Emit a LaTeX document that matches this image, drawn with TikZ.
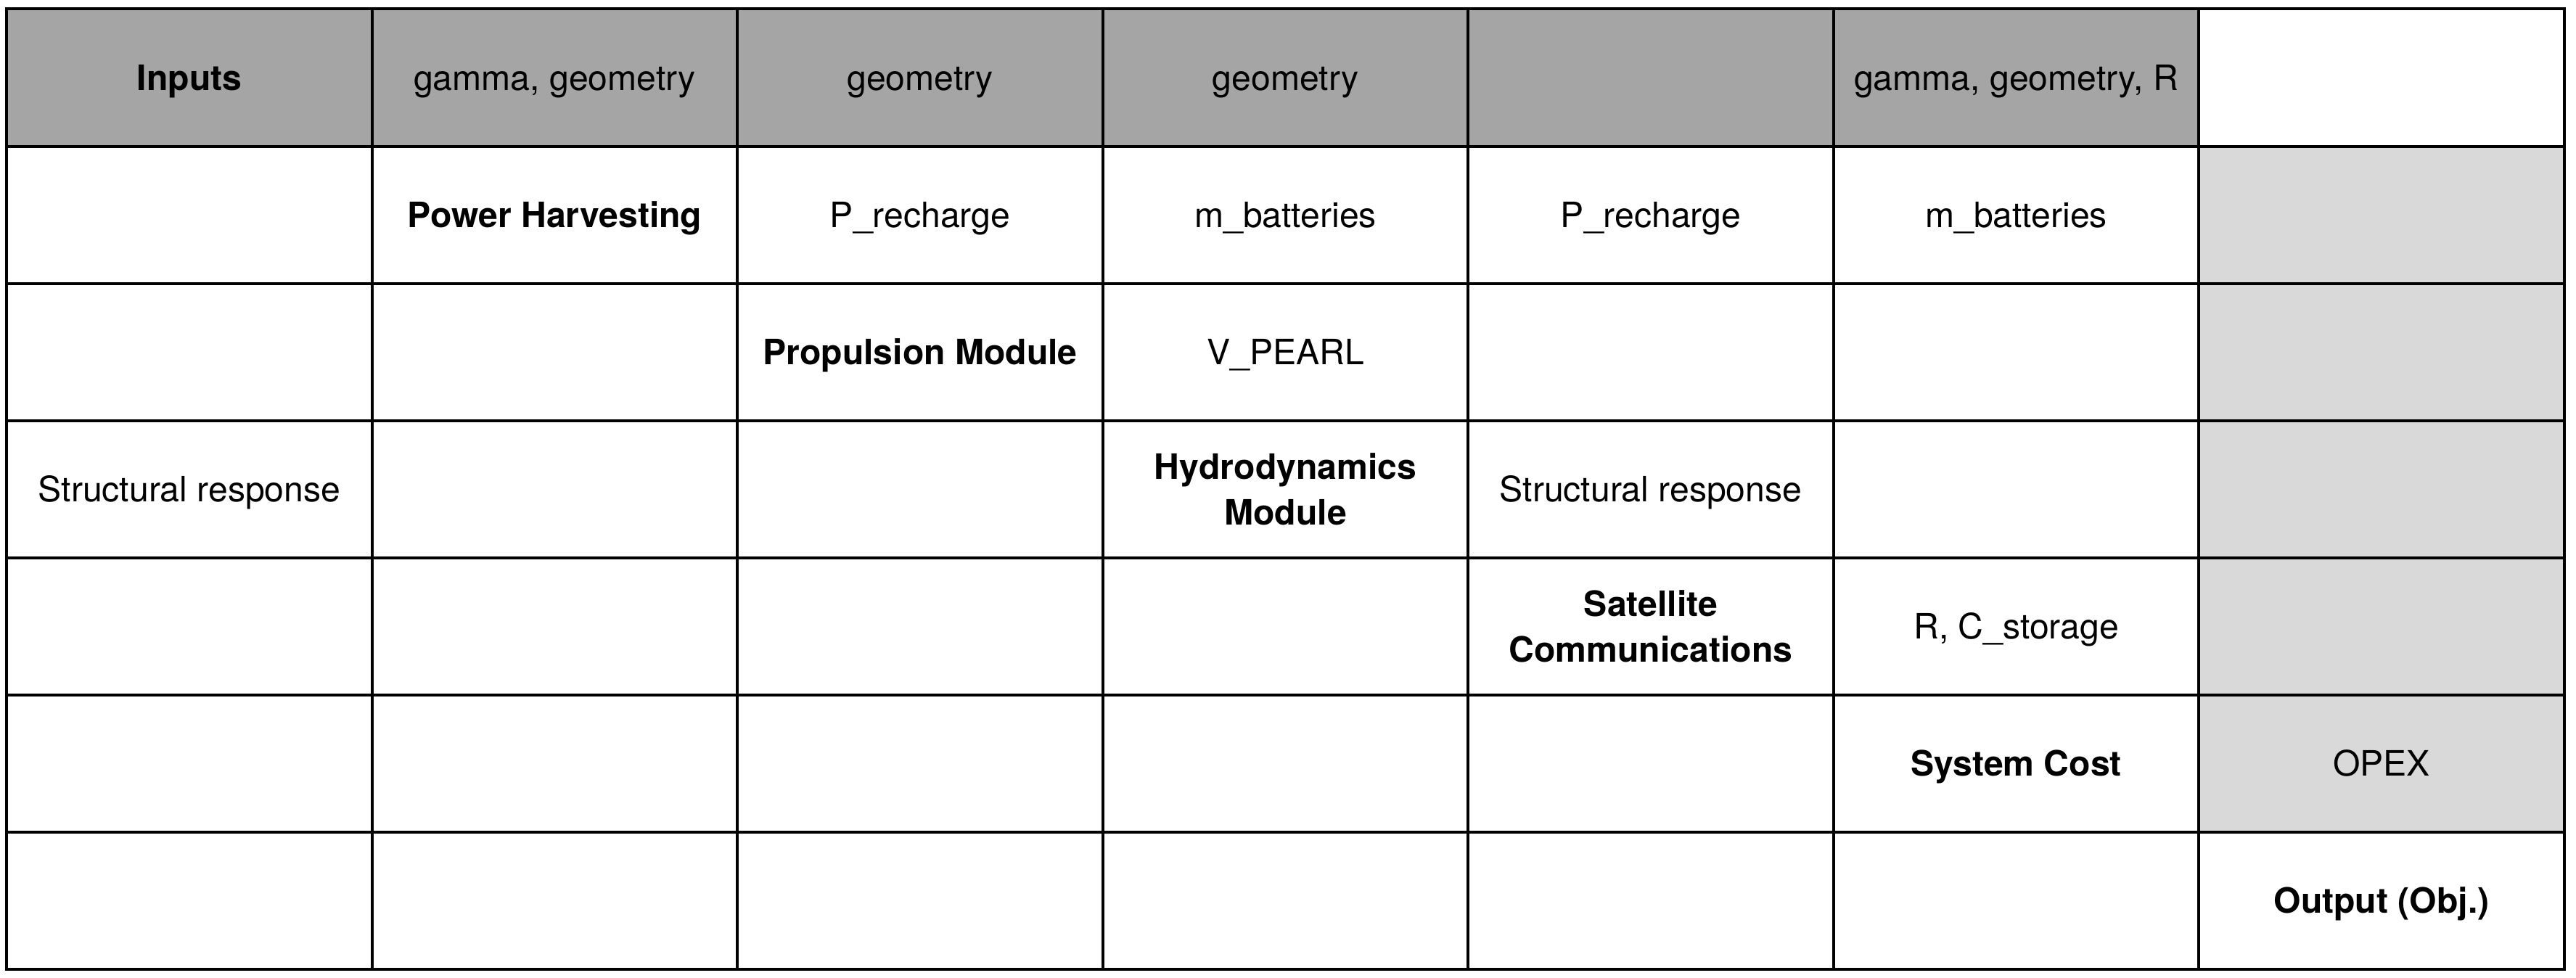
\documentclass[tikz,border=0pt]{standalone}
\usepackage{fontspec}
\setmainfont{TeX Gyre Heros}
\definecolor{hdrgray}{RGB}{165,165,165}
\definecolor{outgray}{RGB}{217,217,217}
\tikzset{
  cell/.style={draw=black, line width=0.04cm, minimum width=5.035cm,
    minimum height=1.891cm, inner sep=0pt, align=center, text=black,
    font=\fontsize{13.7}{17.9}\selectfont,
    text height=13pt, text depth=3.15pt},
  hdr/.style={cell, fill=hdrgray},
  outc/.style={cell, fill=outgray},
  plain/.style={cell, fill=white},
  % two lines of text: the height reaches up to the first line
  plaintwo/.style={plain, text height=30.9pt},
}
% cell centres: column c, row r (row 1 at the top)
\newcommand{\cellat}[2]{({0.093+5.035*(#1-0.5)},{13.345-1.891*(#2-0.5)})}
\begin{document}
\begin{tikzpicture}
\useasboundingbox (0,0) rectangle (35.5,13.47);
% row 1: inputs
\foreach \c/\sty/\txt in {1/hdr/{\bfseries Inputs}, 2/hdr/{gamma, geometry},
  3/hdr/{geometry}, 4/hdr/{geometry}, 5/hdr/{}, 6/hdr/{gamma, geometry, R},
  7/plain/{}}
  \node[\sty] (c1-\c) at \cellat{\c}{1} {\txt};
% row 2: power harvesting
\foreach \c/\sty/\txt in {1/plain/{}, 2/plain/{\bfseries Power Harvesting},
  3/plain/{P\_recharge}, 4/plain/{m\_batteries}, 5/plain/{P\_recharge},
  6/plain/{m\_batteries}, 7/outc/{}}
  \node[\sty] (c2-\c) at \cellat{\c}{2} {\txt};
% row 3: propulsion
\foreach \c/\sty/\txt in {1/plain/{}, 2/plain/{},
  3/plain/{\bfseries Propulsion Module}, 4/plain/{V\_PEARL}, 5/plain/{},
  6/plain/{}, 7/outc/{}}
  \node[\sty] (c3-\c) at \cellat{\c}{3} {\txt};
% row 4: hydrodynamics
\foreach \c/\sty/\txt in {1/plain/{Structural response}, 2/plain/{}, 3/plain/{},
  4/plaintwo/{\bfseries Hydrodynamics\\\bfseries Module},
  5/plain/{Structural response}, 6/plain/{}, 7/outc/{}}
  \node[\sty] (c4-\c) at \cellat{\c}{4} {\txt};
% row 5: satellite communications
\foreach \c/\sty/\txt in {1/plain/{}, 2/plain/{}, 3/plain/{}, 4/plain/{},
  5/plaintwo/{\bfseries Satellite\\\bfseries Communications},
  6/plain/{R, C\_storage}, 7/outc/{}}
  \node[\sty] (c5-\c) at \cellat{\c}{5} {\txt};
% row 6: system cost
\foreach \c/\sty/\txt in {1/plain/{}, 2/plain/{}, 3/plain/{}, 4/plain/{},
  5/plain/{}, 6/plain/{\bfseries System Cost}, 7/outc/{OPEX}}
  \node[\sty] (c6-\c) at \cellat{\c}{6} {\txt};
% row 7: output
\foreach \c/\sty/\txt in {1/plain/{}, 2/plain/{}, 3/plain/{}, 4/plain/{},
  5/plain/{}, 6/plain/{}, 7/plain/{\bfseries Output (Obj.)}}
  \node[\sty] (c7-\c) at \cellat{\c}{7} {\txt};
\end{tikzpicture}
\end{document}
